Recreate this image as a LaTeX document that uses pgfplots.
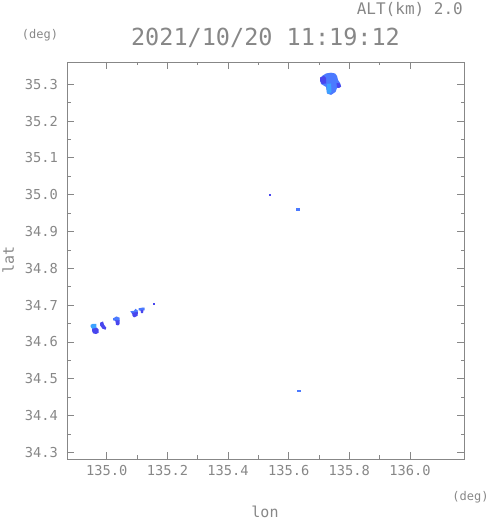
\documentclass[border=0pt]{standalone}
\usepackage{fontspec}
\setmainfont{DejaVu Sans Mono}
\usepackage{pgfplots}
\pgfplotsset{compat=1.18}
\definecolor{txt}{RGB}{135,135,135}
\definecolor{axc}{RGB}{135,135,135}
\definecolor{dblue}{RGB}{72,70,238}
\definecolor{mblue}{RGB}{75,122,255}
\definecolor{lblue}{RGB}{60,162,255}
\begin{document}
\begin{tikzpicture}
\useasboundingbox (-67pt,-62pt) rectangle (424pt,459pt);
\begin{axis}[
  at={(0pt,0pt)}, anchor=south west,
  scale only axis, width=397pt, height=397pt,
  xmin=134.869, xmax=136.178, ymin=34.282, ymax=35.3605,
  xtick={135.0,135.2,135.4,135.6,135.8,136.0},
  ytick={34.3,34.4,34.5,34.6,34.7,34.8,34.9,35.0,35.1,35.2,35.3},
  minor x tick num=1, minor y tick num=1,
  tick align=inside,
  major tick length=7pt, minor tick length=3.5pt,
  axis line style={axc, line width=0.8pt},
  every tick/.style={axc, line width=0.8pt},
  /pgf/number format/assume math mode=true,
  /pgf/number format/.cd, fixed, fixed zerofill, precision=1, use period, 1000 sep={},
  /pgfplots/.cd,
  xticklabel style={font=\fontsize{13.7}{14}\selectfont, text=txt, anchor=center, yshift=-12pt, inner sep=0pt},
  yticklabel style={font=\fontsize{13.7}{14}\selectfont, text=txt, anchor=east, xshift=-9pt, inner sep=0pt},
  clip=true,
]
% top blob
\addplot[fill=mblue, draw=none] coordinates {(135.7099,35.3225) (135.7231,35.3293) (135.7396,35.3315) (135.7528,35.3293) (135.7594,35.3225) (135.7627,35.3117) (135.7693,35.3035) (135.7726,35.2927) (135.7594,35.2900) (135.7544,35.2791) (135.7396,35.2710) (135.7264,35.2750) (135.7231,35.2927) (135.7066,35.3008) (135.7033,35.3144)} -- cycle;
\addplot[fill=dblue, draw=none] coordinates {(135.7033,35.3185) (135.7165,35.3225) (135.7231,35.3171) (135.7231,35.3022) (135.7099,35.3008) (135.7033,35.3090)} -- cycle;
\addplot[fill=dblue, draw=none] coordinates {(135.7577,35.3035) (135.7693,35.3022) (135.7726,35.2940) (135.7660,35.2900) (135.7594,35.2913)} -- cycle;
\addplot[fill=lblue, draw=none] coordinates {(135.7264,35.3008) (135.7396,35.3022) (135.7412,35.2791) (135.7330,35.2737) (135.7264,35.2764) (135.7248,35.2900)} -- cycle;
% left cluster
\addplot[fill=dblue, draw=none] coordinates {(134.9515,34.6372) (134.9614,34.6399) (134.9680,34.6385) (134.9736,34.6331) (134.9736,34.6249) (134.9647,34.6214) (134.9548,34.6236) (134.9515,34.6304)} -- cycle;
\addplot[fill=lblue, draw=none] coordinates {(134.9472,34.6466) (134.9548,34.6494) (134.9657,34.6494) (134.9657,34.6385) (134.9515,34.6358) (134.9472,34.6412)} -- cycle;
\addplot[fill=dblue, draw=none] coordinates {(134.9779,34.6521) (134.9878,34.6556) (134.9911,34.6466) (134.9987,34.6385) (134.9960,34.6331) (134.9862,34.6358) (134.9779,34.6453)} -- cycle;
\addplot[fill=mblue, draw=none] coordinates {(135.0208,34.6643) (135.0323,34.6692) (135.0429,34.6656) (135.0429,34.6575) (135.0274,34.6575) (135.0208,34.6589)} -- cycle;
\addplot[fill=dblue, draw=none] coordinates {(135.0274,34.6589) (135.0429,34.6589) (135.0429,34.6494) (135.0373,34.6447) (135.0307,34.6466) (135.0290,34.6548)} -- cycle;
\addplot[fill=mblue, draw=none] coordinates {(135.0778,34.6833) (135.0900,34.6846) (135.0950,34.6901) (135.1032,34.6846) (135.0999,34.6765) (135.0834,34.6765)} -- cycle;
\addplot[fill=dblue, draw=none] coordinates {(135.0834,34.6792) (135.1032,34.6819) (135.1016,34.6710) (135.0900,34.6665) (135.0851,34.6710)} -- cycle;
\addplot[fill=mblue, draw=none] coordinates {(135.1055,34.6914) (135.1197,34.6936) (135.1253,34.6928) (135.1253,34.6860) (135.1131,34.6846) (135.1055,34.6860)} -- cycle;
\addplot[fill=dblue, draw=none] coordinates {(135.1114,34.6874) (135.1213,34.6874) (135.1197,34.6784) (135.1131,34.6784)} -- cycle;
\addplot[fill=dblue, draw=none] coordinates {(135.1517,34.7064) (135.1583,34.7064) (135.1583,34.7009) (135.1517,34.7009)} -- cycle;
% isolated echoes
\addplot[fill=dblue, draw=none] coordinates {(135.5351,35.0022) (135.5407,35.0022) (135.5407,34.9976) (135.5351,34.9976)} -- cycle;
\addplot[fill=mblue, draw=none] coordinates {(135.6241,34.9642) (135.6373,34.9642) (135.6373,34.9569) (135.6241,34.9569)} -- cycle;
\addplot[fill=mblue, draw=none] coordinates {(135.6264,34.4702) (135.6396,34.4702) (135.6396,34.4640) (135.6264,34.4640)} -- cycle;
\end{axis}
\node[anchor=east, text=txt, font=\fontsize{16}{17}\selectfont, inner sep=0pt] at (396pt,450pt) {ALT(km) 2.0};
\node[anchor=center, text=txt, font=\fontsize{23.5}{24}\selectfont, inner sep=0pt] at (198.5pt,421.5pt) {2021/10/20 11:19:12};
\node[anchor=center, text=txt, font=\fontsize{12}{13}\selectfont, inner sep=0pt] at (-27pt,423.5pt) {(deg)};
\node[anchor=center, text=txt, font=\fontsize{12}{13}\selectfont, inner sep=0pt] at (403.5pt,-38.5pt) {(deg)};
\node[anchor=center, text=txt, font=\fontsize{15}{16}\selectfont, inner sep=0pt] at (198pt,-53pt) {lon};
\node[anchor=base, rotate=90, text=txt, font=\fontsize{15}{16}\selectfont, inner sep=0pt] at (-53pt,199pt) {lat};
\end{tikzpicture}
\end{document}
